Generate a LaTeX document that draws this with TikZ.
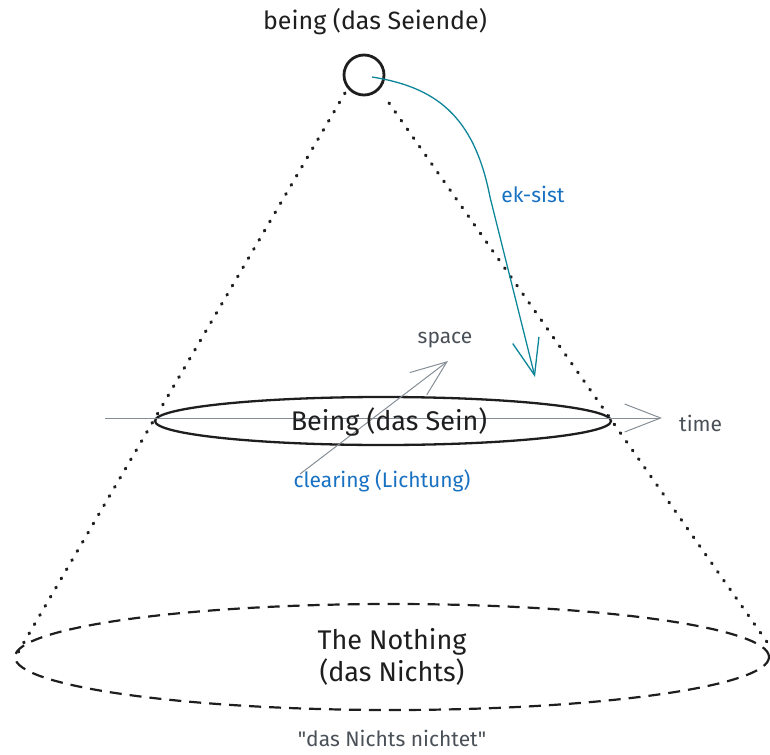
\documentclass[tikz,border=0pt]{standalone}
\usepackage{fontspec}
\setmainfont{Fira Sans}
\usetikzlibrary{arrows.meta,shapes.geometric}
\definecolor{ink}{HTML}{1E1E1E}
\definecolor{graytxt}{HTML}{495057}
\definecolor{grayline}{HTML}{868E96}
\definecolor{bluetxt}{HTML}{1971C2}
\definecolor{tealline}{HTML}{0C8599}
\tikzset{
  conedots/.style={ink, line width=3.2pt, line cap=round, dash pattern=on 0.8pt off 9.8pt},
  axis/.style={grayline, line width=1pt, -{Straight Barb[length=36pt,width=28pt,line width=1pt]}},
  bigtxt/.style={ink, font=\fontsize{27}{32}\selectfont, inner sep=0pt},
  midtxt/.style={ink, font=\fontsize{25}{30}\selectfont, inner sep=0pt},
  smalltxt/.style={font=\fontsize{21}{25}\selectfont, inner sep=0pt},
}
\begin{document}
\begin{tikzpicture}[x=1pt,y=-1pt]
\useasboundingbox (0,0) rectangle (770,754);
% cone
\coordinate (cl1) at (345,93);
\coordinate (cl2) at (16,656);
\coordinate (cr1) at (389,103);
\coordinate (cr2) at (767,642);
\draw[conedots] (cl1) -- (cl2);
\draw[conedots] (cr1) -- (cr2);
% bottom ellipse
\node[ellipse, draw=ink, line width=2.2pt, dash pattern=on 12pt off 8pt, minimum width=754pt, minimum height=106pt, inner sep=0pt] (nichts) at (392,657) {};
\node[bigtxt, align=center] (nichtstxt) at (392,657) {The Nothing\\(das Nichts)};
\node[smalltxt, graytxt, font=\fontsize{21}{25}\selectfont] (nichtet) at (392,738) {\textquotedbl das Nichts nichtet\textquotedbl};
% Being ellipse
\node[ellipse, draw=ink, line width=2.3pt, minimum width=456pt, minimum height=48pt, inner sep=0pt] (sein) at (383,421) {};
\coordinate (t0) at (105,418);
\coordinate (t1) at (662,418);
\draw[axis] (t0) -- (t1);
\coordinate (s0) at (300,474);
\coordinate (s1) at (448,361);
\draw[axis] (s0) -- (s1);
\node[bigtxt] (seintxt) at (389,422) {Being (das Sein)};
\node[smalltxt, graytxt, anchor=west] (time) at (679,423) {time};
\node[smalltxt, graytxt] (space) at (445,340) {space};
\node[smalltxt, bluetxt] (clearing) at (382,481) {clearing (Lichtung)};
% being
\node[midtxt] (title) at (375,22) {being (das Seiende)};
\node[circle, draw=ink, line width=2.8pt, minimum size=40pt, inner sep=0pt] (seiende) at (364,75) {};
\coordinate (e1) at (490,197);
\coordinate (e2) at (535,377);
\draw[tealline, line width=1.3pt, -{Straight Barb[length=36pt,width=27pt,line width=1.3pt]}] (seiende.center) ++(8,2) .. controls (435,87) and (474,115) .. (e1) -- (e2);
\node[smalltxt, bluetxt] (eksist) at (533,194) {ek-sist};
\end{tikzpicture}
\end{document}
